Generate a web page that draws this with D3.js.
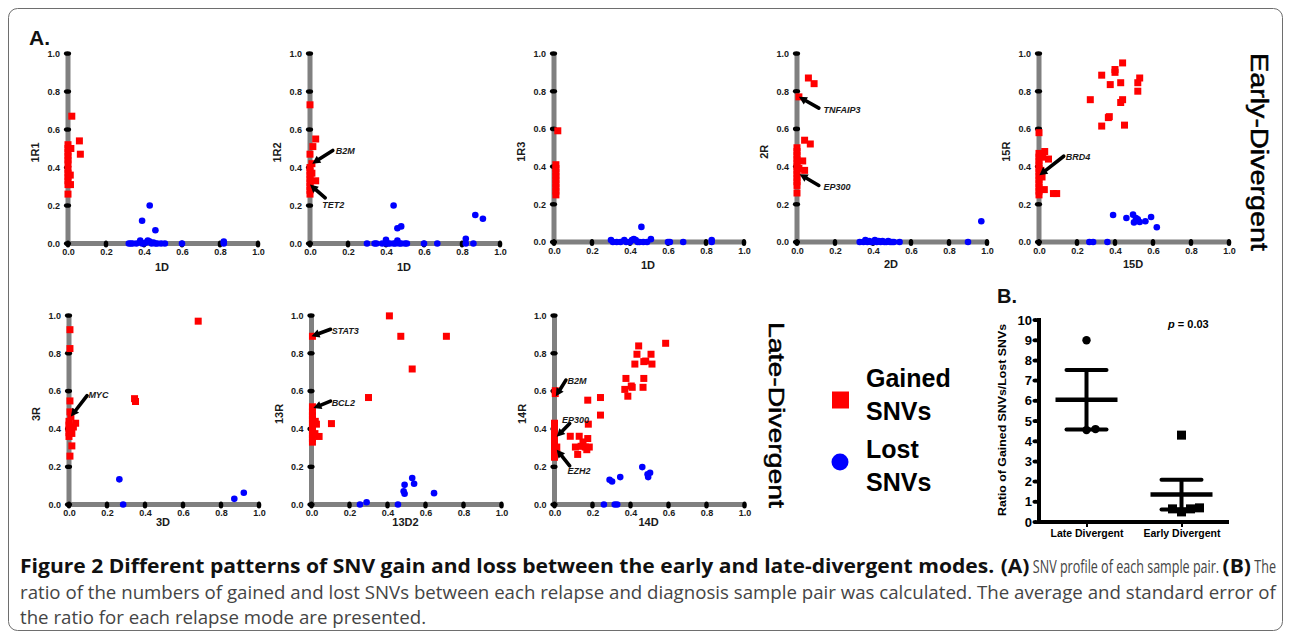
<!DOCTYPE html>
<html><head><meta charset="utf-8">
<script src="https://cdn.jsdelivr.net/npm/d3@7"></script>
<style>body{margin:0;background:#fff}</style>
</head><body><svg id="fig" width="1290" height="638"></svg>
<script>
// ---------------- DATA ----------------
const tickValues = [0, 0.2, 0.4, 0.6, 0.8, 1.0];

const gained_1R1 = [[0,0.26],[0,0.31],[0,0.33],[0,0.35],[0,0.37],[0,0.39],[0,0.42],[0,0.44],[0,0.46],[0,0.48],[0,0.50],[0,0.52],[0.012,0.36],[0.013,0.31],[0.015,0.50],[0.02,0.67],[0.06,0.54],[0.065,0.47]];
const lost_1R1 = [[0.43,0.20],[0.39,0.12],[0.46,0.07],[0.32,0],[0.33,0],[0.34,0],[0.36,0],[0.38,0.015],[0.39,0],[0.40,0],[0.41,0.005],[0.42,0.015],[0.43,0.01],[0.44,0],[0.45,0.005],[0.46,0],[0.47,0],[0.49,0],[0.51,0],[0.60,0],[0.82,0.01],[0.82,0]];

const gained_1R2 = [[0,0.73],[0.03,0.55],[0.015,0.51],[0,0.47],[0.01,0.42],[0,0.40],[0.03,0.33],[0,0.26],[0,0.28],[0,0.30],[0,0.32],[0,0.34],[0,0.36],[0,0.38],[0.01,0.37]];
const lost_1R2 = [[0.44,0.20],[0.87,0.15],[0.91,0.13],[0.48,0.09],[0.46,0.08],[0.82,0.025],[0.40,0.02],[0.30,0],[0.34,0],[0.35,0],[0.38,0],[0.40,0],[0.41,0],[0.42,0],[0.44,0],[0.45,0],[0.46,0.015],[0.47,0],[0.48,0],[0.50,0],[0.51,0],[0.60,0],[0.67,0],[0.82,0],[0.86,0]];

const gained_1R3 = [[0.02,0.59],[0.01,0.25],[0.01,0.27],[0.01,0.29],[0.01,0.31],[0.01,0.33],[0.01,0.35],[0.01,0.37],[0.01,0.39],[0.01,0.41]];
const lost_1R3 = [[0.46,0.08],[0.30,0.01],[0.31,0],[0.33,0],[0.35,0],[0.37,0.01],[0.38,0],[0.40,0],[0.41,0.01],[0.42,0.015],[0.43,0.01],[0.44,0],[0.45,0],[0.47,0],[0.49,0],[0.51,0.015],[0.60,0],[0.61,0],[0.68,0],[0.83,0.01],[0.83,0]];

const gained_2R = [[0.06,0.87],[0.09,0.84],[0.01,0.77],[0.04,0.54],[0.07,0.52],[0.03,0.43],[0.04,0.38],[0,0.30],[0,0.32],[0,0.34],[0,0.36],[0,0.38],[0,0.40],[0,0.42],[0,0.44],[0,0.46],[0,0.48],[0,0.50],[0,0.26],[0.01,0.39]];
const lost_2R = [[0.97,0.11],[0.90,0],[0.33,0],[0.35,0],[0.36,0.01],[0.37,0],[0.38,0.005],[0.39,0],[0.40,0],[0.41,0.01],[0.42,0],[0.43,0.005],[0.44,0],[0.45,0.005],[0.46,0],[0.47,0],[0.48,0.005],[0.49,0],[0.50,0],[0.51,0],[0.54,0]];

const gained_15R = [[0.33,0.885],[0.40,0.90],[0.40,0.915],[0.44,0.95],[0.375,0.835],[0.43,0.845],[0.53,0.87],[0.52,0.845],[0.52,0.80],[0.27,0.755],[0.44,0.755],[0.43,0.74],[0.365,0.66],[0.37,0.665],[0.33,0.615],[0.45,0.62],[0,0.58],[0,0.25],[0,0.27],[0,0.29],[0,0.31],[0,0.33],[0,0.35],[0,0.37],[0,0.39],[0,0.41],[0,0.43],[0,0.45],[0,0.47],[0.03,0.48],[0.05,0.44],[0.02,0.45],[0.016,0.345],[0.028,0.278],[0.076,0.257],[0.093,0.257],[0.01,0.38]];
const lost_15R = [[0.39,0.143],[0.46,0.127],[0.495,0.145],[0.51,0.127],[0.50,0.104],[0.53,0.106],[0.56,0.11],[0.59,0.133],[0.62,0.078],[0.52,0.12],[0.265,0],[0.285,0],[0.36,0]];

const gained_3R = [[0.68,0.97],[0.345,0.56],[0.35,0.545],[0.005,0.925],[0.005,0.825],[0.005,0.548],[0.005,0.49],[0.01,0.465],[0,0.44],[0,0.42],[0,0.40],[0,0.38],[0,0.36],[0.035,0.43],[0.023,0.41],[0.015,0.376],[0.015,0.31],[0.005,0.256]];
const lost_3R = [[0.265,0.133],[0.285,0],[0.87,0.03],[0.92,0.062]];

const gained_13R = [[0.41,0.998],[0.47,0.89],[0.71,0.89],[0.005,0.89],[0.53,0.717],[0.30,0.566],[0.105,0.428],[0.005,0.517],[0.005,0.49],[0.005,0.47],[0.005,0.45],[0.005,0.43],[0.005,0.41],[0.005,0.39],[0.005,0.37],[0.005,0.35],[0.005,0.33],[0.02,0.44],[0.026,0.425],[0.04,0.36],[0.018,0.375]];
const lost_13R = [[0.255,0],[0.29,0.012],[0.455,0],[0.485,0.07],[0.49,0.057],[0.49,0.104],[0.53,0.14],[0.54,0.11],[0.645,0.06]];

const gained_14R = [[0.585,0.853],[0.443,0.839],[0.434,0.795],[0.508,0.795],[0.423,0.743],[0.47,0.756],[0.48,0.759],[0.513,0.743],[0.47,0.667],[0.376,0.667],[0.466,0.62],[0.37,0.609],[0.404,0.627],[0.409,0.62],[0.386,0.573],[0.175,0.552],[0.242,0.566],[0.242,0.473],[0.178,0.425],[0.083,0.361],[0.13,0.361],[0.175,0.349],[0.15,0.331],[0.11,0.304],[0.14,0.308],[0.183,0.304],[0.122,0.265],[0.162,0.304],[0.17,0.29],[0.004,0.602],[0.004,0.587],[0,0.25],[0,0.27],[0,0.29],[0,0.31],[0,0.33],[0,0.35],[0,0.37],[0,0.39],[0,0.41],[0,0.43],[0.012,0.304],[0.012,0.27]];
const lost_14R = [[0.462,0.198],[0.29,0.131],[0.303,0.122],[0.346,0.145],[0.49,0.16],[0.503,0.168],[0.493,0.145],[0.26,0],[0.317,0],[0.33,0]];

// gene annotations (data units): tip, tail, label (left x, baseline y)
const annotations = [
  {panel:"1R2", gene:"B2M", tip:[0.012,0.42], tail:[0.12,0.49], label:[0.135,0.47]},
  {panel:"1R2", gene:"TET2", tip:[0.0,0.31], tail:[0.08,0.24], label:[0.064,0.187]},
  {panel:"2R", gene:"TNFAIP3", tip:[0.01,0.77], tail:[0.115,0.71], label:[0.14,0.685]},
  {panel:"2R", gene:"EP300", tip:[0.014,0.36], tail:[0.115,0.30], label:[0.14,0.274]},
  {panel:"15R", gene:"BRD4", tip:[0.002,0.354], tail:[0.13,0.455], label:[0.141,0.433]},
  {panel:"3R", gene:"MYC", tip:[0.01,0.465], tail:[0.095,0.576], label:[0.102,0.562]},
  {panel:"13R", gene:"STAT3", tip:[0.0,0.89], tail:[0.1,0.927], label:[0.106,0.902]},
  {panel:"13R", gene:"BCL2", tip:[0.01,0.51], tail:[0.1,0.547], label:[0.106,0.52]},
  {panel:"14R", gene:"B2M", tip:[0.007,0.573], tail:[0.06,0.658], label:[0.069,0.637]},
  {panel:"14R", gene:"EP300", tip:[0.012,0.358], tail:[0.08,0.428], label:[0.039,0.433]},
  {panel:"14R", gene:"EZH2", tip:[0.012,0.29], tail:[0.08,0.204], label:[0.069,0.159]}
];

// Panel B
const groups = ["Late Divergent", "Early Divergent"];
const lateRatios = [9.0, 4.55, 4.6];
const earlyRatios = [4.3, 0.5, 0.65, 0.7, 0.65];
const ratioTicks = [0,1,2,3,4,5,6,7,8,9,10];
const pText = "0.03";

const captionLines = [
  [["b","Figure 2 Different patterns of SNV gain and loss between the early and late-divergent modes. "],["b","(A)"],["r"," SNV profile of each sample pair. "],["b","(B)"],["r"," The"]],
  [["r","ratio of the numbers of gained and lost SNVs between each relapse and diagnosis sample pair was calculated. The average and standard error of"]],
  [["r","the ratio for each relapse mode are presented."]]
];

// ---------------- LAYOUT ----------------
const svg = d3.select("#fig");
const FONT = "'Liberation Sans', Arial, Helvetica, sans-serif";
const RED = "#ff0000", BLUE = "#0000ff", GRAY = "#808080";

svg.append("rect").attr("x",8.5).attr("y",8.5).attr("width",1274).attr("height",622)
  .attr("rx",9).attr("fill","none").attr("stroke","#6e6e6e").attr("stroke-width",1);

svg.append("text").attr("x",29).attr("y",45).text("A.")
  .attr("font-family",FONT).attr("font-weight","bold").attr("font-size",21).attr("fill","#111");

const panels = [
  {id:"1R1", xl:"1D",   gained:gained_1R1, lost:lost_1R1, ox:68,    oy:243.5, top:53.5, xlOff:27},
  {id:"1R2", xl:"1D",   gained:gained_1R2, lost:lost_1R2, ox:310,   oy:243.5, top:53.5, xlOff:27},
  {id:"1R3", xl:"1D",   gained:gained_1R3, lost:lost_1R3, ox:554,   oy:242,   top:53.5, xlOff:27},
  {id:"2R",  xl:"2D",   gained:gained_2R,  lost:lost_2R,  ox:797,   oy:242,   top:53.5, xlOff:26},
  {id:"15R", xl:"15D",  gained:gained_15R, lost:lost_15R, ox:1039,  oy:242,   top:53.5, xlOff:26},
  {id:"3R",  xl:"3D",   gained:gained_3R,  lost:lost_3R,  ox:69,    oy:504.5, top:315.5, xlOff:21.5},
  {id:"13R", xl:"13D2", gained:gained_13R, lost:lost_13R, ox:311.5, oy:504.5, top:315.5, xlOff:21.5},
  {id:"14R", xl:"14D",  gained:gained_14R, lost:lost_14R, ox:554.5, oy:504.5, top:315.5, xlOff:21.5}
];

function drawPanel(p) {
  const x = d3.scaleLinear().domain([0,1]).range([p.ox, p.ox + 190]);
  const y = d3.scaleLinear().domain([0,1]).range([p.oy, p.top]);
  const g = svg.append("g");
  g.append("line").attr("x1",x(0)).attr("x2",x(0)).attr("y1",y(0)+2.5).attr("y2",y(1))
    .attr("stroke",GRAY).attr("stroke-width",5);
  g.append("line").attr("x1",x(0)-2.5).attr("x2",x(1)).attr("y1",y(0)).attr("y2",y(0))
    .attr("stroke",GRAY).attr("stroke-width",5);
  const ay = g.append("g").attr("transform",`translate(${x(0)},0)`)
    .call(d3.axisLeft(y).tickValues(tickValues).tickFormat(d3.format(".1f")).tickSize(0).tickPadding(8));
  const ax = g.append("g").attr("transform",`translate(0,${y(0)})`)
    .call(d3.axisBottom(x).tickValues(tickValues).tickFormat(d3.format(".1f")).tickSize(0).tickPadding(5.5));
  [ay, ax].forEach(a => {
    a.select(".domain").remove();
    a.selectAll("text").attr("font-family",FONT).attr("font-weight","bold").attr("font-size",9).attr("fill","#1a1a1a");
  });
  g.selectAll(".ty").data(tickValues).join("ellipse")
    .attr("cx",x(0)-0.5).attr("cy",d=>y(d)).attr("rx",3.6).attr("ry",2.3).attr("fill","#000");
  g.selectAll(".tx").data(tickValues).join("ellipse")
    .attr("cx",d=>x(d)).attr("cy",y(0)+0.5).attr("rx",2.3).attr("ry",3.6).attr("fill","#000");
  g.append("text").attr("x",(x(0)+x(1))/2 - 1).attr("y",y(0)+p.xlOff).attr("text-anchor","middle")
    .attr("font-family",FONT).attr("font-weight","bold").attr("font-size",11).attr("fill","#1a1a1a").text(p.xl);
  g.append("text").attr("transform",`translate(${x(0)-29},${(y(0)+y(1))/2 + 4}) rotate(-90)`)
    .attr("text-anchor","middle").attr("font-family",FONT).attr("font-weight","bold").attr("font-size",11)
    .attr("fill","#1a1a1a").text(p.id);
  g.selectAll(".lost").data(p.lost).join("circle")
    .attr("cx",d=>x(d[0])).attr("cy",d=>y(d[1])).attr("r",3.3).attr("fill",BLUE);
  const s = 7;
  g.selectAll(".gain").data(p.gained).join("rect")
    .attr("x",d=>x(d[0])-s/2).attr("y",d=>y(d[1])-s/2).attr("width",s).attr("height",s).attr("fill",RED);
  annotations.filter(a => a.panel === p.id).forEach(a => {
    const tx = x(a.tip[0]), ty = y(a.tip[1]), sx = x(a.tail[0]), sy = y(a.tail[1]);
    const ang = Math.atan2(ty - sy, tx - sx);
    const hl = 8, hw = 4.2;
    const bx = tx - hl*Math.cos(ang), by = ty - hl*Math.sin(ang);
    g.append("line").attr("x1",sx).attr("y1",sy).attr("x2",bx).attr("y2",by)
      .attr("stroke","#000").attr("stroke-width",3.6).attr("stroke-linecap","round");
    const px = -Math.sin(ang), py = Math.cos(ang);
    g.append("path").attr("d",`M${tx},${ty}L${bx+hw*px},${by+hw*py}L${bx-hw*px},${by-hw*py}Z`).attr("fill","#000");
    g.append("text").attr("x",x(a.label[0])).attr("y",y(a.label[1]))
      .attr("font-family",FONT).attr("font-weight","bold").attr("font-style","italic").attr("font-size",9)
      .attr("fill","#1a1a1a").text(a.gene);
  });
}
panels.forEach(drawPanel);

// row titles
svg.append("text").attr("transform","translate(1251,152) rotate(90)").attr("text-anchor","middle")
  .attr("font-family",FONT).attr("font-size",23).attr("fill","#000").attr("stroke","#000").attr("stroke-width",0.5)
  .attr("textLength",198).attr("lengthAdjust","spacingAndGlyphs").text("Early-Divergent");
svg.append("text").attr("transform","translate(769,415) rotate(90)").attr("text-anchor","middle")
  .attr("font-family",FONT).attr("font-size",22).attr("fill","#000").attr("stroke","#000").attr("stroke-width",0.5)
  .attr("textLength",186).attr("lengthAdjust","spacingAndGlyphs").text("Late-Divergent");

// legend
const lg = svg.append("g");
lg.append("rect").attr("x",832).attr("y",391.5).attr("width",17).attr("height",17).attr("fill",RED);
lg.append("circle").attr("cx",840).attr("cy",462).attr("r",8.5).attr("fill",BLUE);
[["Gained",387],["SNVs",420],["Lost",458],["SNVs",491]].forEach(t => {
  lg.append("text").attr("x",866).attr("y",t[1]).attr("font-family",FONT).attr("font-weight","bold")
    .attr("font-size",25).attr("fill","#000").text(t[0]);
});

// ---------------- PANEL B ----------------
svg.append("text").attr("x",997).attr("y",303).text("B.")
  .attr("font-family",FONT).attr("font-weight","bold").attr("font-size",20).attr("fill","#111");

const bx = d3.scalePoint().domain(groups).range([1039, 1229]).padding(0.5);
const by = d3.scaleLinear().domain([0,10]).range([522, 320]);
const gb = svg.append("g");
gb.append("line").attr("x1",1039).attr("x2",1039).attr("y1",524).attr("y2",318).attr("stroke","#000").attr("stroke-width",4);
gb.append("line").attr("x1",1037).attr("x2",1229).attr("y1",522).attr("y2",522).attr("stroke","#000").attr("stroke-width",4);
const byAx = gb.append("g").attr("transform","translate(1039,0)")
  .call(d3.axisLeft(by).tickValues(ratioTicks).tickFormat(d3.format("d")).tickSize(0).tickPadding(7));
byAx.select(".domain").remove();
byAx.selectAll("text").attr("font-family",FONT).attr("font-weight","bold").attr("font-size",13).attr("fill","#000");
gb.selectAll(".byt").data(ratioTicks).join("ellipse")
  .attr("cx",1035.5).attr("cy",d=>by(d)).attr("rx",3).attr("ry",2).attr("fill","#000");
const bxAx = gb.append("g").attr("transform","translate(0,522)")
  .call(d3.axisBottom(bx).tickSize(5).tickPadding(3));
bxAx.select(".domain").remove();
bxAx.selectAll("line").attr("stroke","#000").attr("stroke-width",2);
bxAx.selectAll("text").attr("font-family",FONT).attr("font-weight","bold").attr("font-size",10.5).attr("fill","#000");

gb.append("text").attr("transform","translate(1006,420) rotate(-90)").attr("text-anchor","middle")
  .attr("font-family",FONT).attr("font-weight","bold").attr("font-size",11.5).attr("fill","#000")
  .attr("textLength",192).attr("lengthAdjust","spacingAndGlyphs").text("Ratio of Gained SNVs/Lost SNVs");

const pt = gb.append("text").attr("x",1168).attr("y",328).attr("font-family",FONT).attr("font-weight","bold")
  .attr("font-size",11).attr("fill","#000");
pt.append("tspan").attr("font-style","italic").text("p");
pt.append("tspan").text(" = " + pText);

function dodge(vals, cx, size) {
  const placed = [];
  const sorted = vals.map((v,i)=>({v,i})).sort((a,b)=>a.v-b.v);
  sorted.forEach(o => {
    const py = by(o.v);
    const offsets = [0, size+1, -(size+1), 2*(size+1), -2*(size+1)];
    for (const off of offsets) {
      if (!placed.some(q => Math.hypot(q.x - (cx+off), q.y - py) < size)) { placed.push({x:cx+off, y:py, v:o.v}); break; }
    }
  });
  return placed;
}
const groupData = [lateRatios, earlyRatios];
groupData.forEach((vals, gi) => {
  const cx = bx(groups[gi]);
  const m = d3.mean(vals), se = d3.deviation(vals)/Math.sqrt(vals.length);
  gb.append("line").attr("x1",cx).attr("x2",cx).attr("y1",by(m+se)).attr("y2",by(m-se)).attr("stroke","#000").attr("stroke-width",4);
  gb.append("line").attr("x1",cx-20).attr("x2",cx+20).attr("y1",by(m+se)).attr("y2",by(m+se)).attr("stroke","#000").attr("stroke-width",4).attr("stroke-linecap","round");
  gb.append("line").attr("x1",cx-20).attr("x2",cx+20).attr("y1",by(m-se)).attr("y2",by(m-se)).attr("stroke","#000").attr("stroke-width",4).attr("stroke-linecap","round");
  gb.append("line").attr("x1",cx-31).attr("x2",cx+31).attr("y1",by(m)).attr("y2",by(m)).attr("stroke","#000").attr("stroke-width",4.5);
  if (gi === 0) {
    gb.selectAll(".lp").data(dodge(vals, cx, 8)).join("circle")
      .attr("cx",d=>d.x).attr("cy",d=>d.y).attr("r",4.2).attr("fill","#000");
  } else {
    gb.selectAll(".ep").data(dodge(vals, cx, 8)).join("rect")
      .attr("x",d=>d.x-4.5).attr("y",d=>d.y-4.5).attr("width",9).attr("height",9).attr("fill","#000");
  }
});

// ---------------- CAPTION ----------------
const capY = [573, 599, 624];
const capLeft = 20, capWidth = 1256, capSize = 19;
const line1RegularWidth = 218;   // condensed regular run on the first line
const capG = svg.append("g");
function makeSeg(seg) {
  const t = capG.append("text").attr("x",0).attr("y",0)
    .attr("font-family","'Open Sans', 'Noto Sans', sans-serif").attr("font-size",capSize)
    .attr("xml:space","preserve").style("white-space","pre")
    .attr("font-weight", seg[0]==="b" ? "bold" : "normal")
    .attr("fill", seg[0]==="b" ? "#111" : "#444").text(seg[1]);
  return {node:t, type:seg[0], w:t.node().getComputedTextLength()};
}
const capSegs = captionLines.map(line => line.map(makeSeg));
const sr = capWidth / d3.sum(capSegs[1], s => s.w);
const wb = d3.sum(capSegs[0].filter(s=>s.type==="b"), s=>s.w);
const wr = d3.sum(capSegs[0].filter(s=>s.type==="r"), s=>s.w);
const sr1 = line1RegularWidth / wr;
const sb = (capWidth - line1RegularWidth) / wb;
capSegs.forEach((line, i) => {
  let cx = capLeft;
  line.forEach(s => {
    const sc = s.type==="b" ? sb : (i === 0 ? sr1 : sr);
    s.node.attr("transform",`translate(${cx},${capY[i]}) scale(${sc},1)`);
    cx += s.w * sc;
  });
});
</script></body></html>
